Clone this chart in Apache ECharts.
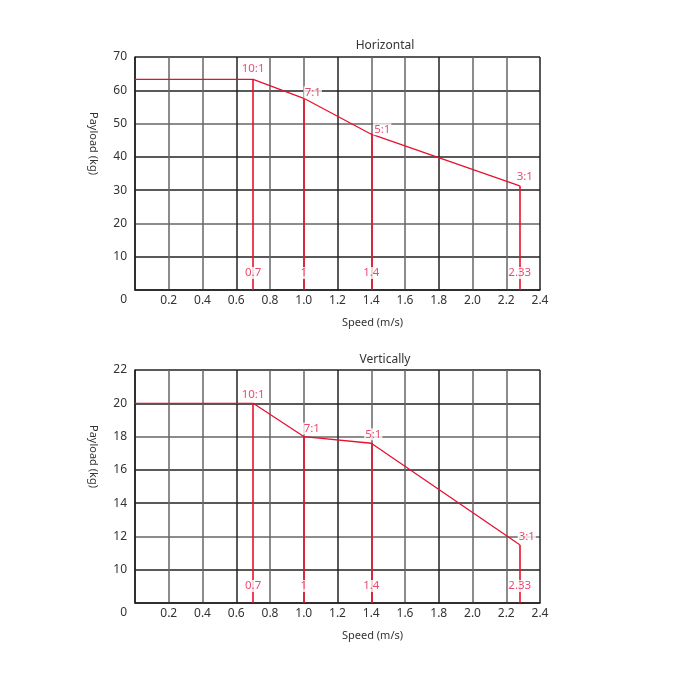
<!DOCTYPE html>
<html>
<head>
<meta charset="utf-8">
<script src="https://cdn.jsdelivr.net/npm/echarts@6/dist/echarts.min.js"></script>
<style>
  html, body { margin: 0; padding: 0; background: #fff; }
  #main { width: 673px; height: 673px; }
</style>
</head>
<body>
<div id="main"></div>
<script>
// gear ratio points
var ratios = ['10:1', '7:1', '5:1', '3:1'];
var speeds = [0.7, 1.0, 1.4, 2.28];
var speedTags = ['0.7', '1', '1.4', '2.33'];
var horizLoad = [63.3, 57.6, 46.8, 31.3];
var vertLoad = [20, 18, 17.6, 11.5];
var titles = ['Horizontal', 'Vertically'];

var RED = '#e8112d';
var PINK = '#e8194a';
var FONT = 'Noto Sans';

// label offsets for ratio names, per chart
var ratioOffsets = [
  [[0, -11], [9, -6], [11, -5], [5, -9]],
  [[0, -9], [8, -8], [2, -9], [7, -8]]
];

function xAxisFor(idx) {
  return {
    type: 'value', gridIndex: idx, min: 0, max: 2.4, interval: 0.2,
    name: 'Speed (m/s)', nameLocation: 'middle', nameGap: 27,
    nameTextStyle: { color: '#333', fontSize: 11, fontFamily: FONT, padding: [0, 0, 0, 70] },
    axisLine: { show: true, lineStyle: { color: '#222', width: 1.5 } },
    axisTick: { show: false },
    axisLabel: {
      color: '#333', fontSize: 12, fontFamily: FONT, margin: 5,
      formatter: function(v) {
        if (v === 0) return '';
        return v.toFixed(1);
      }
    },
    splitLine: { show: true, lineStyle: { color: ['#222', '#666', '#666'], width: 1.5 } }
  };
}

function yAxisFor(idx, min, max, interval) {
  return {
    type: 'value', gridIndex: idx, min: min, max: max, interval: interval,
    name: 'Payload (kg)', nameLocation: 'middle', nameGap: 36, nameRotate: -90,
    nameTextStyle: { color: '#333', fontSize: 11, fontFamily: FONT, padding: [0, 60, 0, 0] },
    axisLine: { show: true, lineStyle: { color: '#222', width: 1.5 } },
    axisTick: { show: false },
    axisLabel: {
      color: '#333', fontSize: 12, fontFamily: FONT, margin: 8,
      formatter: function(v) {
        if (v === min) return '{z|0}';
        return v;
      },
      rich: { z: { color: '#333', fontSize: 12, fontFamily: FONT, padding: [20, 0, 0, 0] } }
    },
    splitLine: { show: true, lineStyle: { color: ['#222', '#222', '#666'], width: 1.5 } }
  };
}

function seriesFor(idx, loads, yMin) {
  var curve = [[0, loads[0]]];
  var drops = [];
  var heads = [];
  var feet = [];
  for (var i = 0; i < speeds.length; i++) {
    curve.push([speeds[i], loads[i]]);
    drops.push({ coords: [[speeds[i], loads[i]], [speeds[i], yMin]] });
    heads.push({
      value: [speeds[i], loads[i]], name: ratios[i],
      label: { offset: ratioOffsets[idx][i] }
    });
    feet.push({ value: [speeds[i], yMin], name: speedTags[i] });
  }
  return [{
    type: 'lines', coordinateSystem: 'cartesian2d', xAxisIndex: idx, yAxisIndex: idx,
    data: drops, lineStyle: { color: RED, width: 1.6, opacity: 1 }, z: 3, silent: true
  }, {
    type: 'line', xAxisIndex: idx, yAxisIndex: idx, data: curve,
    symbol: 'none', lineStyle: { color: RED, width: 1.3 }, z: 4, silent: true
  }, {
    type: 'scatter', xAxisIndex: idx, yAxisIndex: idx, data: heads, symbolSize: 0, z: 5,
    label: {
      show: true, position: 'inside', formatter: '{b}', color: PINK, fontSize: 11.5,
      fontFamily: FONT, backgroundColor: '#fff', padding: [0, 1]
    }
  }, {
    type: 'scatter', xAxisIndex: idx, yAxisIndex: idx, data: feet, symbolSize: 0, z: 5,
    label: {
      show: true, position: 'inside', offset: [0, -17], formatter: '{b}', color: PINK,
      fontSize: 11.5, fontFamily: FONT, backgroundColor: '#fff', padding: [0, 0]
    }
  }];
}

var chart = echarts.init(document.getElementById('main'));
var option = {
  backgroundColor: '#fff',
  animation: false,
  title: [
    { text: titles[0], left: 380, top: 35, textAlign: 'center',
      textStyle: { color: '#333', fontSize: 12, fontWeight: 'normal', fontFamily: FONT } },
    { text: titles[1], left: 380, top: 349, textAlign: 'center',
      textStyle: { color: '#333', fontSize: 12, fontWeight: 'normal', fontFamily: FONT } }
  ],
  grid: [
    { left: 135, top: 57, width: 405, height: 233 },
    { left: 135, top: 370, width: 405, height: 233 }
  ],
  xAxis: [xAxisFor(0), xAxisFor(1)],
  yAxis: [yAxisFor(0, 0, 70, 10), yAxisFor(1, 8, 22, 2)],
  series: seriesFor(0, horizLoad, 0).concat(seriesFor(1, vertLoad, 8))
};
chart.setOption(option);
</script>
</body>
</html>
